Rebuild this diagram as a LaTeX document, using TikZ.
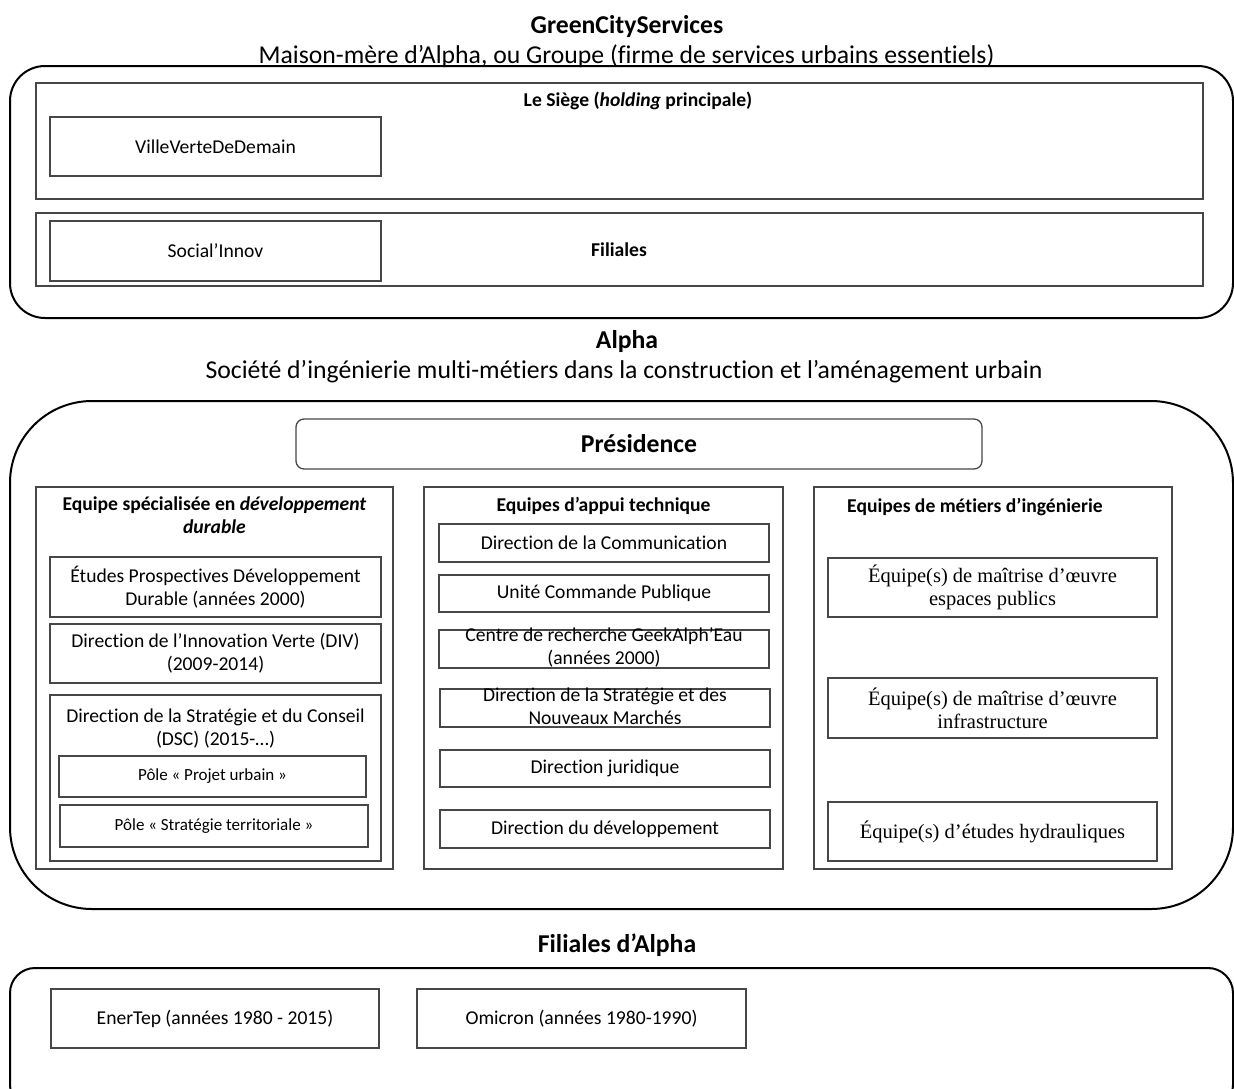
\documentclass[tikz,border=0pt]{standalone}
\usepackage{fontspec}
\setmainfont{Carlito}[Ligatures={TeX,NoCommon}]
\newfontfamily\tnrfam{Liberation Serif}[Ligatures={TeX,NoCommon}]
\newcommand\fBody{\fontsize{19.6}{23}\selectfont}
\newcommand\fBig{\fontsize{25.7}{30}\selectfont}
\newcommand\fPole{\fontsize{17}{20}\selectfont}
\newcommand\fSer{\tnrfam\fontsize{20.5}{23}\selectfont}
\begin{document}
\begin{tikzpicture}[x=1pt,y=-1pt,
  outerbox/.style={draw=black, line width=2pt, rectangle, inner sep=0pt},
  box/.style={draw=black!72, line width=1.3pt, rectangle, inner sep=0pt, align=center, font=\fBody},
  col/.style={box, minimum width=#1, minimum height=382pt},
  wbox/.style={box, minimum width=331pt, minimum height=59pt},
  tbox/.style={box, minimum width=330pt, minimum height=38pt},
  ebox/.style={box, minimum width=329pt, minimum height=59pt, font=\fSer},
  pole/.style={box, minimum width=307pt, minimum height=41pt, font=\fPole},
  txt/.style={inner sep=0pt, align=center, font=\fBody},
  head/.style={inner sep=0pt, align=center, font=\fBody\bfseries},
  bigtxt/.style={inner sep=0pt, font=\fBig}
]
\useasboundingbox (0,0) rectangle (1234,1088);
\clip (0,0) rectangle (1234,1088);

% ---------- GreenCityServices ----------
\node[bigtxt, font=\fBig\bfseries, anchor=base] (gcs) at (627,33) {GreenCityServices};
\node[bigtxt, anchor=base] (gcssub) at (626.5,63) {Maison-mère d’Alpha, ou Groupe (firme de services urbains essentiels)};
\node[outerbox, rounded corners=35pt, minimum width=1223pt, minimum height=252pt] (grp) at (621.5,192) {};

\node[box, minimum width=1167pt, minimum height=116pt] (siege) at (619.5,141) {};
\node[head] (siegetxt) at (638,101) {Le Siège (\textit{holding} principale)};
\node[wbox] (vvd) at (215.5,146.5) {VilleVerteDeDemain};

\node[box, minimum width=1167pt, minimum height=73pt] (fil) at (619.5,249.5) {};
\node[head] (filtxt) at (619,250) {Filiales};
\node[box, minimum width=331pt, minimum height=60pt] (social) at (215.5,251) {Social’Innov};

% ---------- Alpha ----------
\node[bigtxt, font=\fBig\bfseries, anchor=base] (alpha) at (627,348) {Alpha};
\node[bigtxt, anchor=base] (alphasub) at (624,378) {Société d’ingénierie multi-métiers dans la construction et l’aménagement urbain};
\node[outerbox, rounded corners=82pt, minimum width=1223pt, minimum height=508pt] (alphabox) at (621.5,655) {};

\node[box, rounded corners=8pt, minimum width=686pt, minimum height=50pt, font=\fBig\bfseries] (pres) at (639,444) {Présidence};

% column 1
\node[col=357pt] (col1) at (214.5,678) {};
\node[head] (col1h) at (214.5,515.5) {Equipe spécialisée en \textit{développement}\\\textit{durable}};
\node[box, minimum width=331pt, minimum height=60pt] (etudes) at (215.5,587) {Études Prospectives Développement\\Durable (années 2000)};
\node[wbox] (div) at (215.5,653.5) {Direction de l’Innovation Verte (DIV)\\(2009-2014)};
\node[box, minimum width=331pt, minimum height=166pt] (dsc) at (215.5,778) {};
\node[txt] (dsctxt) at (215.5,728.5) {Direction de la Stratégie et du Conseil\\(DSC) (2015-…)};
\node[pole] (pole1) at (212.5,776.5) {Pôle « Projet urbain »};
\node[pole, minimum width=308pt, minimum height=42pt] (pole2) at (214,826) {Pôle « Stratégie territoriale »};

% column 2
\node[col=359pt] (col2) at (603.5,678) {};
\node[head] (col2h) at (603.5,506) {Equipes d’appui technique};
\node[tbox] (comm) at (604,543) {Direction de la Communication};
\node[tbox, minimum height=37pt] (unite) at (604,593.5) {Unité Commande Publique};
\node[tbox] (centre) at (604,649) {};
\node[txt] (centretxt) at (604,647.5) {Centre de recherche GeekAlph’Eau\\(années 2000)};
\node[tbox] (strat) at (605,708) {};
\node[txt] (strattxt) at (605,706.5) {Direction de la Stratégie et des\\Nouveaux Marchés};
\node[tbox, minimum height=37pt] (jur) at (605,768.5) {Direction juridique};
\node[tbox] (dev) at (605,829) {Direction du développement};

% column 3
\node[col=358pt] (col3) at (993,678) {};
\node[head, anchor=west] (col3h) at (847,507) {Equipes de métiers d’ingénierie};
\node[ebox] (eng1) at (992.5,587.5) {Équipe(s) de maîtrise d’œuvre\\espaces publics};
\node[ebox, minimum height=60pt] (eng2) at (992.5,708) {Équipe(s) de maîtrise d’œuvre\\infrastructure};
\node[ebox] (eng3) at (992.5,831.5) {Équipe(s) d’études hydrauliques};

% ---------- Filiales d'Alpha ----------
\node[bigtxt, font=\fBig\bfseries] (filalpha) at (617,945) {Filiales d’Alpha};
\node[outerbox, rounded corners=25pt, minimum width=1223pt, minimum height=142pt] (filbox) at (621.5,1039) {};
\node[box, minimum width=328pt, minimum height=59pt] (enertep) at (215,1018.5) {EnerTep (années 1980 - 2015)};
\node[box, minimum width=329pt, minimum height=59pt] (omicron) at (581.5,1018.5) {Omicron (années 1980-1990)};
\end{tikzpicture}
\end{document}
